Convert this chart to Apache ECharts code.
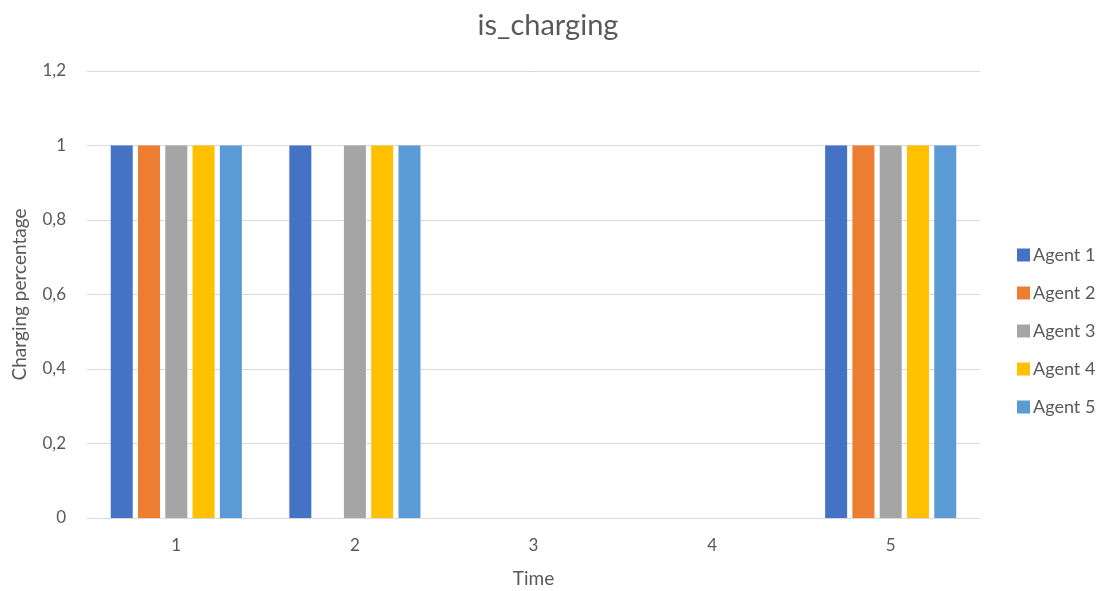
<!DOCTYPE html>
<html>
<head>
<meta charset="utf-8">
<script src="https://cdn.jsdelivr.net/npm/echarts@6/dist/echarts.min.js"></script>
<style>html,body{margin:0;padding:0;background:#fff;}#chart{width:1103px;height:591px;}</style>
</head>
<body>
<div id="chart"></div>
<script>
const categories = ['1', '2', '3', '4', '5'];
const seriesNames = ['Agent 1', 'Agent 2', 'Agent 3', 'Agent 4', 'Agent 5'];
const agent1 = [1, 1, 0, 0, 1];
const agent2 = [1, 0, 0, 0, 1];
const agent3 = [1, 1, 0, 0, 1];
const agent4 = [1, 1, 0, 0, 1];
const agent5 = [1, 1, 0, 0, 1];
const colors = ['#4472C4', '#ED7D31', '#A5A5A5', '#FFC000', '#5B9BD5'];
const values = [agent1, agent2, agent3, agent4, agent5];

const font = 'Lato, "Open Sans", sans-serif';
const chart = echarts.init(document.getElementById('chart'));
chart.setOption({
  animation: false,
  color: colors,
  title: {
    text: 'is_charging', left: 543, top: 6, textAlign: 'center',
    textStyle: { fontFamily: font, fontSize: 29, fontWeight: 'normal', color: '#595959' }
  },
  legend: {
    orient: 'vertical', left: 1012, top: 241, itemWidth: 13, itemHeight: 13, itemGap: 20,
    icon: 'rect',
    textStyle: { fontFamily: font, fontSize: 18, color: '#595959', padding: [0, 0, 0, -2] },
    data: seriesNames
  },
  grid: { left: 87, right: 123, top: 71, bottom: 73, containLabel: false, outerBoundsMode: 'none' },
  xAxis: {
    type: 'category', data: categories,
    name: 'Time', nameLocation: 'middle', nameGap: 51,
    nameTextStyle: { fontFamily: font, fontSize: 19, color: '#595959' },
    axisLine: { lineStyle: { color: '#D9D9D9', width: 1 } },
    axisTick: { show: false },
    axisLabel: { fontFamily: font, fontSize: 17, color: '#595959', margin: 19 }
  },
  yAxis: {
    type: 'value', min: 0, max: 1.2, interval: 0.2,
    name: 'Charging percentage', nameLocation: 'middle', nameGap: 58,
    nameTextStyle: { fontFamily: font, fontSize: 19, color: '#595959' },
    axisLine: { show: false }, axisTick: { show: false },
    axisLabel: {
      fontFamily: font, fontSize: 17, color: '#595959', margin: 21,
      formatter: v => String(Math.round(v * 10) / 10).replace('.', ',')
    },
    splitLine: { lineStyle: { color: '#D9D9D9', width: 1 } }
  },
  series: seriesNames.map((n, i) => ({
    name: n, type: 'bar', data: values[i], barWidth: 22, barGap: '24%'
  }))
});
</script>
</body>
</html>
